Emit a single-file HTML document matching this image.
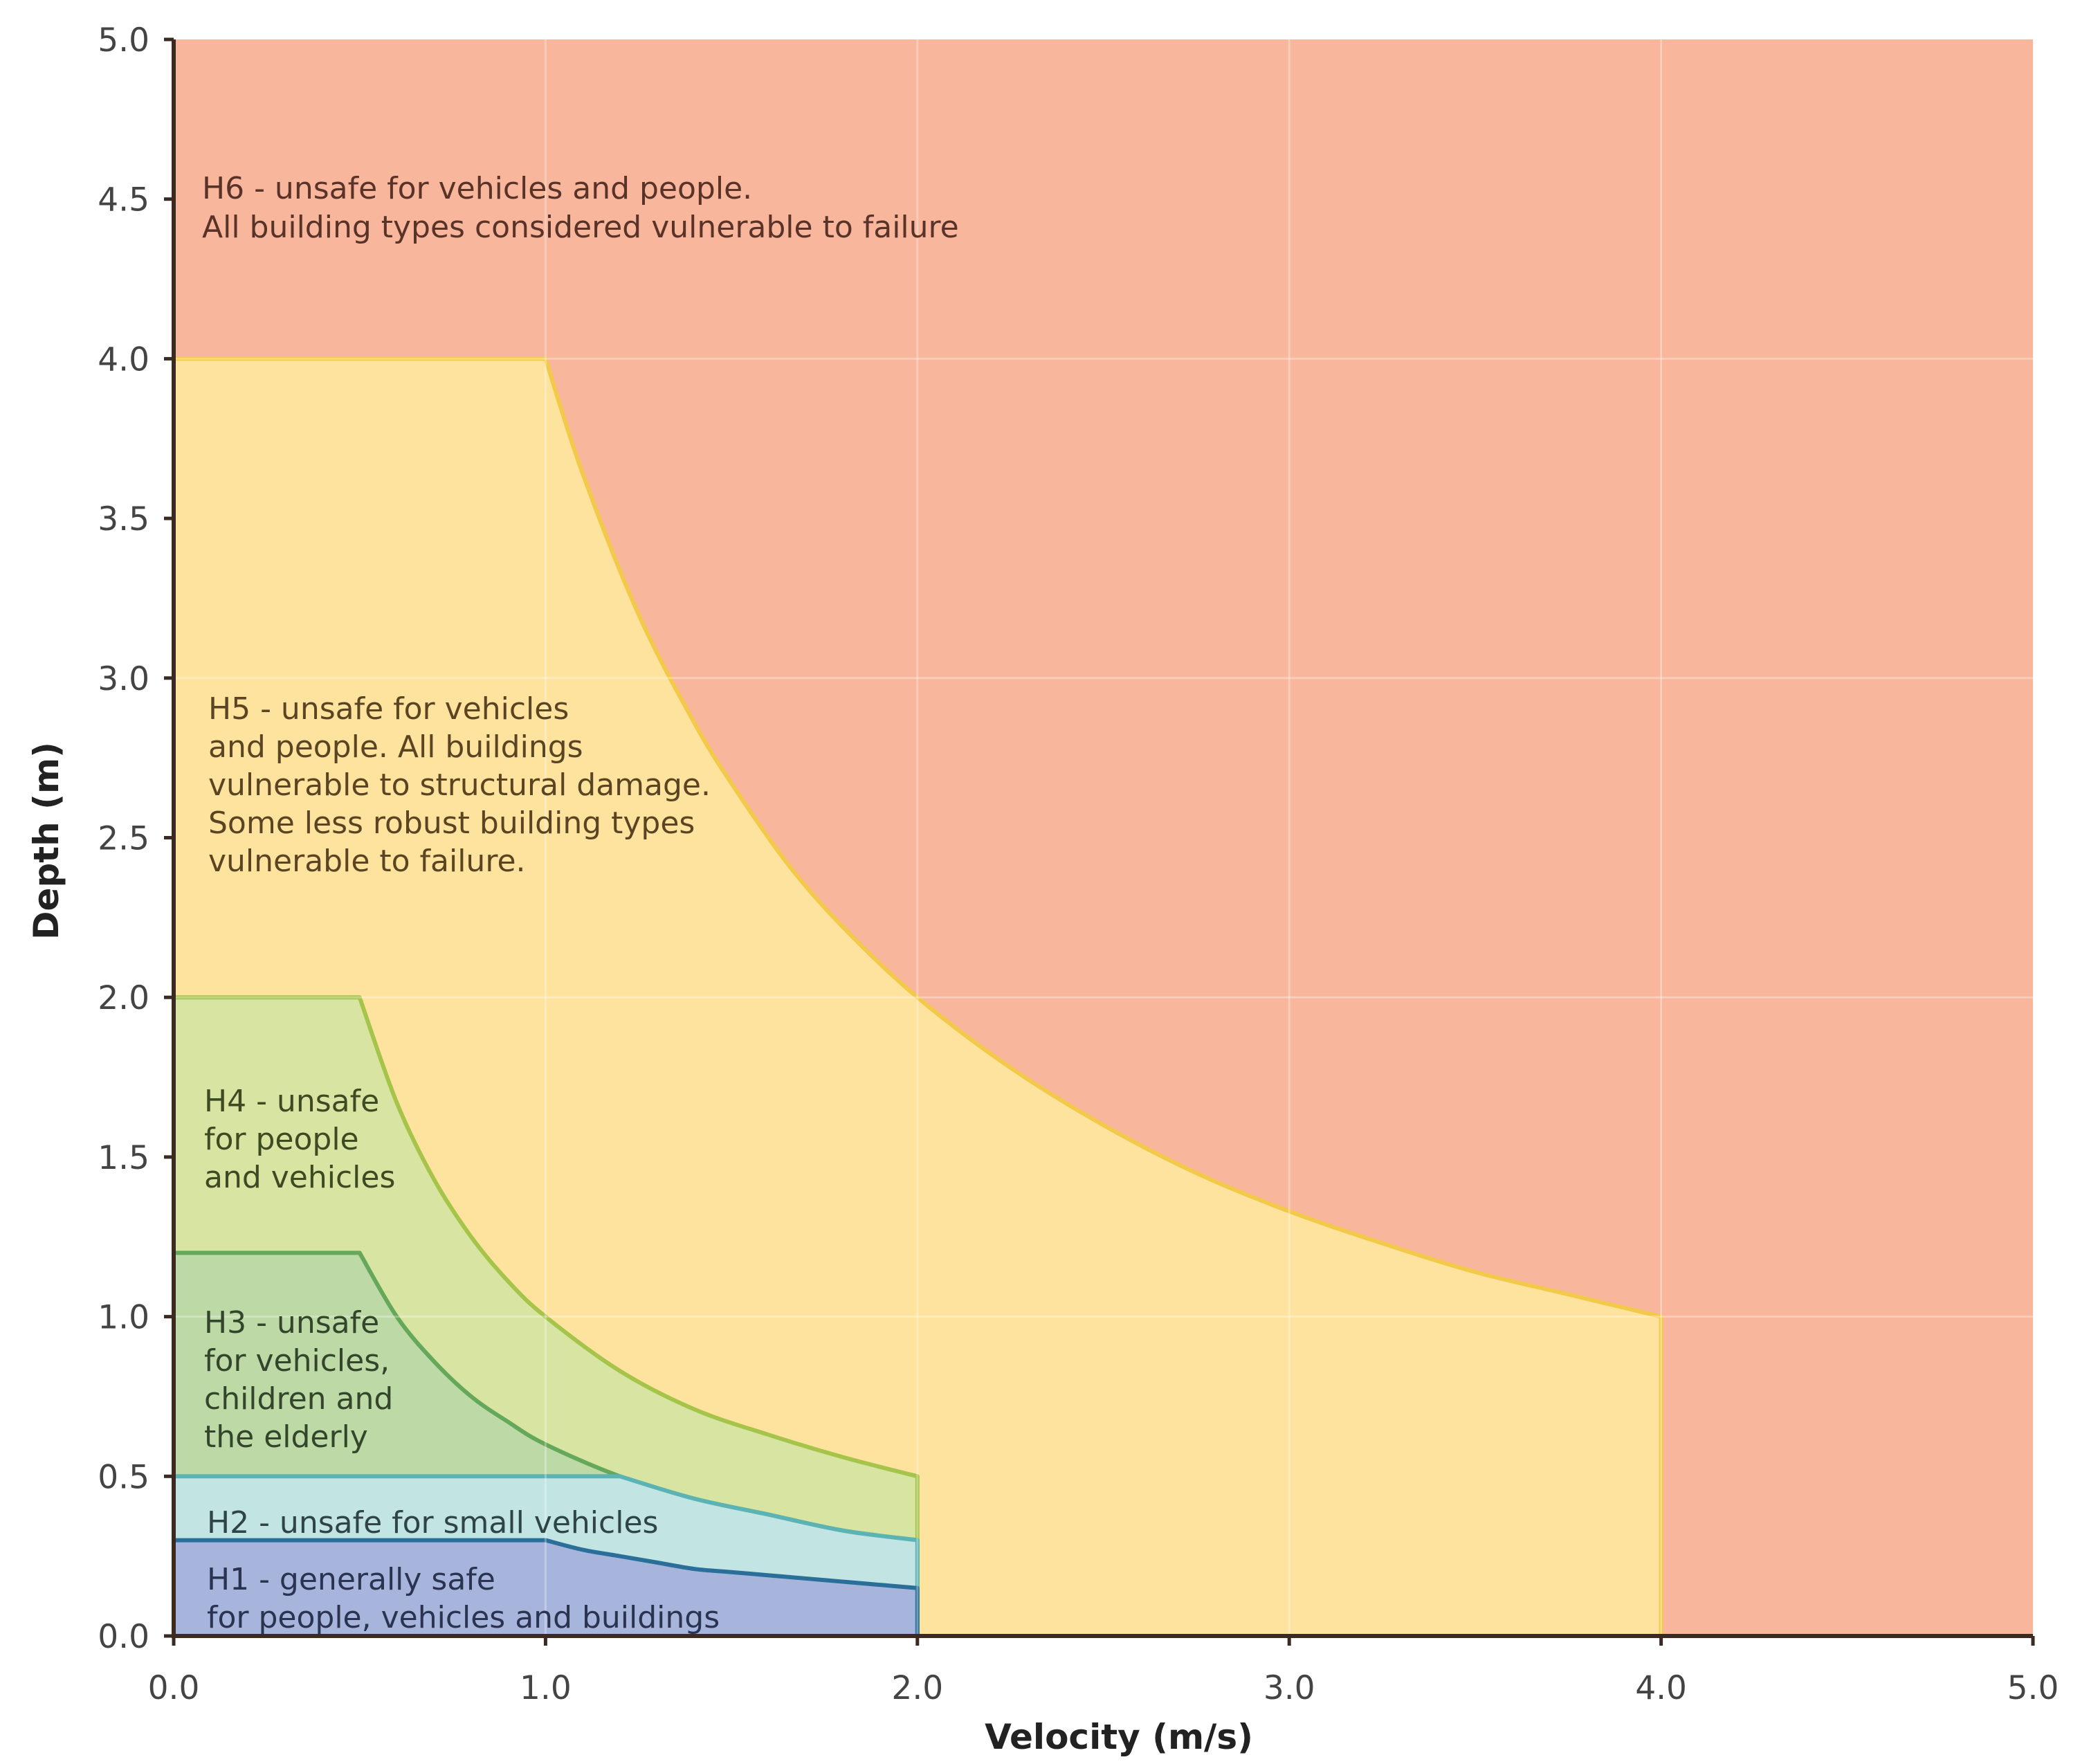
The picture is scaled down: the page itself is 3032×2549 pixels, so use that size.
<!DOCTYPE html>
<html><head><meta charset="utf-8"><style>
html,body{margin:0;padding:0;background:#fff;}
svg{display:block;font-family:"DejaVu Sans","Liberation Sans",sans-serif;}
</style></head><body>
<svg id="chart" width="3032" height="2549" viewBox="0 0 3032 2549" xmlns="http://www.w3.org/2000/svg">
<g id="zones"></g>
<g id="grid"></g>
<g id="axes"></g>
<g id="labels"></g>
</svg>
<script>
const xTicks=[0,1,2,3,4,5];
const yTicks=[0,0.5,1,1.5,2,2.5,3,3.5,4,4.5,5];
const xTickLabels=["0.0","1.0","2.0","3.0","4.0","5.0"];
const yTickLabels=["0.0","0.5","1.0","1.5","2.0","2.5","3.0","3.5","4.0","4.5","5.0"];
const h5V=[0,1,1.1,1.25,1.4,1.5,1.65,1.8,2,2.25,2.5,2.75,3,3.25,3.5,3.75,4];
const h5D=[4,4,3.64,3.2,2.86,2.67,2.42,2.22,2,1.78,1.6,1.45,1.33,1.23,1.14,1.07,1];
const h4V=[0,0.5,0.6,0.7,0.8,0.9,1,1.2,1.4,1.6,1.8,2];
const h4D=[2,2,1.67,1.43,1.25,1.11,1,0.83,0.71,0.63,0.56,0.5];
const h3V=[0,0.5,0.6,0.7,0.8,0.9,1,1.2,1.4,1.6,1.8,2];
const h3D=[1.2,1.2,1,0.86,0.75,0.67,0.6,0.5,0.43,0.38,0.33,0.3];
const h2V=[0,1.2,1.4,1.6,1.8,2];
const h2D=[0.5,0.5,0.43,0.38,0.33,0.3];
const h1V=[0,1,1.1,1.2,1.3,1.4,1.5,1.6,1.7,1.8,1.9,2];
const h1D=[0.3,0.3,0.27,0.25,0.23,0.21,0.2,0.19,0.18,0.17,0.16,0.15];

const X0=251,X1=2938,Y0=2364,Y1=57;
const sx=v=>X0+(X1-X0)*v/5;
const sy=d=>Y0-(Y0-Y1)*d/5;
const NS="http://www.w3.org/2000/svg";
function mk(tag,attrs,parent){const e=document.createElementNS(NS,tag);for(const k in attrs)e.setAttribute(k,attrs[k]);parent.appendChild(e);return e;}
function smooth(V,D){
  const P=V.map((v,i)=>[sx(v),sy(D[i])]);
  let s='M'+P[0][0]+','+P[0][1]+' L'+P[1][0]+','+P[1][1];
  for(let i=1;i<P.length-1;i++){
    const p0=P[i-1],p1=P[i],p2=P[i+1],p3=P[Math.min(i+2,P.length-1)];
    const a=(i===1)?p1:p0;
    const c1=[p1[0]+(p2[0]-a[0])/6,p1[1]+(p2[1]-a[1])/6];
    const c2=[p2[0]-(p3[0]-p1[0])/6,p2[1]-(p3[1]-p1[1])/6];
    s+=' C'+c1[0]+','+c1[1]+' '+c2[0]+','+c2[1]+' '+p2[0]+','+p2[1];
  }
  return s;
}
const zones=document.getElementById('zones');
const bg=mk('rect',{x:X0,y:Y1,width:X1-X0,height:Y0-Y1,fill:'#f8b69c'},zones);


function zone(V,D,fill,stroke,name){
  const top=smooth(V,D);
  const lastV=V[V.length-1];
  const d='M'+sx(0)+','+sy(0)+' L'+top.slice(1)+' L'+sx(lastV)+','+sy(0)+' Z';
  const p=mk('path',{d:d,fill:fill,stroke:'none'},zones);
  
  
  const b=mk('path',{d:top+' L'+sx(lastV)+','+sy(0),fill:'none',stroke:stroke,'stroke-width':6,'stroke-linejoin':'round'},zones);
  
  
}
zone(h5V,h5D,'#fde39e','#f3c94a','zone-h5');
zone(h4V,h4D,'#d8e4a2','#a6c449','zone-h4');
zone(h3V,h3D,'#bcd9a6','#66a85a','zone-h3');
zone(h2V,h2D,'#c2e5e3','#5cb3b3','zone-h2');
zone(h1V,h1D,'#a7b5dd','#2a6f9a','zone-h1');

const grid=document.getElementById('grid');
xTicks.forEach(v=>{if(v>0&&v<5){const l=mk('line',{x1:sx(v),x2:sx(v),y1:Y1,y2:Y0,stroke:'#ffffff','stroke-opacity':0.3,'stroke-width':3},grid);

}});
yTicks.forEach(d=>{if(d>0&&d<5&&d%1===0){const l=mk('line',{x1:X0,x2:X1,y1:sy(d),y2:sy(d),stroke:'#ffffff','stroke-opacity':0.3,'stroke-width':3},grid);

}});

const axes=document.getElementById('axes');
mk('line',{x1:X0,x2:X0,y1:Y1,y2:Y0+3,stroke:'#3a2a22','stroke-width':6},axes);
mk('line',{x1:X0-3,x2:X1,y1:Y0,y2:Y0,stroke:'#3a2a22','stroke-width':6},axes);
xTicks.forEach((v,i)=>{
  const t=mk('line',{x1:sx(v),x2:sx(v),y1:Y0,y2:Y0+14,stroke:'#3a2a22','stroke-width':5},axes);
  
  
  const tx=mk('text',{x:sx(v),y:2455,'text-anchor':'middle','font-size':47,fill:'#444'},axes);
  tx.textContent=xTickLabels[i];
  
  
});
yTicks.forEach((d,i)=>{
  const t=mk('line',{x1:X0-14,x2:X0,y1:sy(d),y2:sy(d),stroke:'#3a2a22','stroke-width':5},axes);
  
  
  const tx=mk('text',{x:216,y:sy(d)+17,'text-anchor':'end','font-size':47,fill:'#444'},axes);
  tx.textContent=yTickLabels[i];
  
  
});
const xt=mk('text',{x:1617,y:2527,'text-anchor':'middle','font-size':50,'font-weight':'bold',fill:'#222'},axes);
xt.textContent='Velocity (m/s)';


const yt=mk('text',{x:0,y:0,'text-anchor':'middle','font-size':50,'font-weight':'bold',fill:'#222',transform:'translate(84,1215) rotate(-90)'},axes);
yt.textContent='Depth (m)';



const labels=document.getElementById('labels');
function label(lines,x,y0,gap,color,name){
  lines.forEach((s,i)=>{const t=mk('text',{x:x,y:y0+i*gap,'font-size':44,fill:color},labels);
  t.textContent=s;
  
  });
}
label(['H6 - unsafe for vehicles and people.','All building types considered vulnerable to failure'],292,287,56,'#5a3328','label-h6');
label(['H5 - unsafe for vehicles','and people. All buildings','vulnerable to structural damage.','Some less robust building types','vulnerable to failure.'],301,1039,55,'#5a4422','label-h5');
label(['H4 - unsafe','for people','and vehicles'],295,1606,55,'#3e4a22','label-h4');
label(['H3 - unsafe','for vehicles,','children and','the elderly'],295,1926,55,'#33452a','label-h3');
label(['H2 - unsafe for small vehicles'],299,2215,55,'#2f4444','label-h2');
label(['H1 - generally safe','for people, vehicles and buildings'],299,2297,55,'#2a3350','label-h1');
</script>
</body></html>
